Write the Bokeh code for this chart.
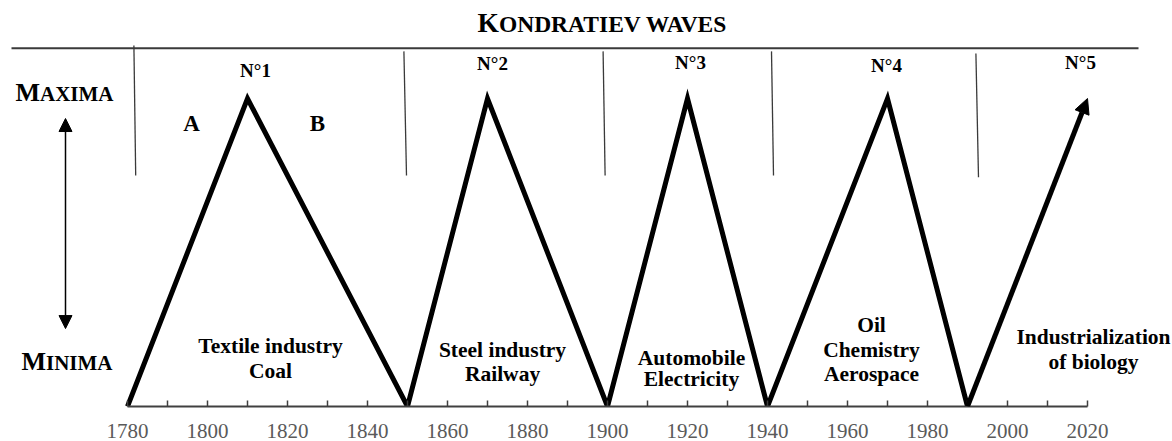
from bokeh.plotting import figure
from bokeh.models import Range1d, FixedTicker, Arrow, NormalHead
from bokeh.core.properties import value
from bokeh.embed import file_html
from bokeh.resources import INLINE

# ---------------- data ----------------
wave_years = [1780, 1810, 1850, 1870, 1900, 1920, 1940, 1970, 1990, 2020]
wave_level = [0, 1, 0, 1, 0, 1, 0, 1, 0, 1]

wave_names = ["N°1", "N°2", "N°3", "N°4", "N°5"]
name_years = [1812, 1871.25, 1920.75, 1969.75, 2018.25]
name_level = [1.091, 1.114, 1.117, 1.107, 1.117]

sep_year_top = [1781.6, 1849.1, 1898.9, 1941.0, 1992.1]
sep_year_bot = [1782.05, 1849.75, 1899.4, 1941.5, 1992.75]
sep_top = [1.172, 1.153, 1.153, 1.153, 1.146]
sep_bot = [0.750, 0.750, 0.750, 0.750, 0.744]

sector_text = ["Textile industry", "Coal",
               "Steel industry", "Railway",
               "Automobile", "Electricity",
               "Oil", "Chemistry", "Aerospace",
               "Industrialization", "of biology"]
sector_year = [1815.75, 1815.75,
               1873.75, 1873.75,
               1921.0, 1921.0,
               1966.0, 1966.0, 1966.0,
               2021.5, 2021.5]
sector_level = [0.195, 0.114,
                0.185, 0.104,
                0.156, 0.088,
                0.266, 0.185, 0.104,
                0.227, 0.146]

major_ticks = [1780, 1800, 1820, 1840, 1860, 1880, 1900, 1920, 1940, 1960, 1980, 2000, 2020]
minor_ticks = [1790, 1810, 1830, 1850, 1870, 1890, 1910, 1930, 1950, 1970, 1990, 2010]

# ---------------- figure ----------------
FONT = value("Liberation Serif")

p = figure(width=1172, height=441, output_backend="svg", toolbar_location=None,
           x_range=Range1d(1748.25, 2041.25), y_range=Range1d(0, 406 / 308),
           y_axis_location=None, min_border_left=0, min_border_right=0,
           min_border_top=0, min_border_bottom=35)
p.outline_line_color = None
p.grid.visible = False
p.background_fill_color = "white"
p.border_fill_color = "white"

ax = p.xaxis[0]
ax.ticker = FixedTicker(ticks=major_ticks, minor_ticks=minor_ticks)
ax.bounds = (1780, 2020)
ax.axis_line_color = "#404040"
ax.axis_line_width = 2
ax.major_tick_in = 6
ax.major_tick_out = 0
ax.minor_tick_in = 6
ax.minor_tick_out = 0
ax.major_tick_line_color = "#404040"
ax.minor_tick_line_color = "#404040"
ax.major_tick_line_width = 1.5
ax.minor_tick_line_width = 1.5
ax.major_label_text_font = "Liberation Serif"
ax.major_label_text_font_size = "21px"
ax.major_label_text_color = "#5a5a5a"
ax.major_label_text_line_height = 1.0
ax.major_label_standoff = 17

# title line and separators
p.segment(x0=[1751], y0=[1.1633], x1=[2032.75], y1=[1.1633],
          line_color="#3a3a3a", line_width=2)
p.segment(x0=sep_year_top, y0=sep_top, x1=sep_year_bot, y1=sep_bot,
          line_color="#3a3a3a", line_width=1.3)

# waves
p.line(wave_years[:-1], wave_level[:-1], line_width=5, line_color="black",
       line_join="miter")
p.add_layout(Arrow(end=NormalHead(size=15, fill_color="black", line_color="black", line_width=1),
                   x_start=wave_years[-2], y_start=wave_level[-2],
                   x_end=wave_years[-1], y_end=wave_level[-1],
                   line_width=5, line_color="black"))

# double arrow maxima/minima
p.add_layout(Arrow(start=NormalHead(size=13, fill_color="black", line_color="black", line_width=1),
                   end=NormalHead(size=13, fill_color="black", line_color="black", line_width=1),
                   x_start=1764.5, y_start=0.253, x_end=1764.5, y_end=0.935,
                   line_width=1.5, line_color="black"))

# wave numbers
p.text(x=name_years, y=name_level, text=wave_names, text_font=FONT,
       text_font_style="bold", text_font_size="19px", text_color="black",
       text_align="center", text_baseline="middle")

# A / B
p.text(x=[1796, 1827.5], y=[0.919, 0.919], text=["A", "B"], text_font=FONT,
       text_font_style="bold", text_font_size="23px", text_color="black",
       text_align="center", text_baseline="middle")

# sectors
p.text(x=sector_year, y=sector_level, text=sector_text, text_font=FONT,
       text_font_style="bold", text_font_size="21.5px", text_color="black",
       text_align="center", text_baseline="middle")

# small-caps title
p.text(x=[1867.5], y=[1.2468], text=["K"], text_font=FONT, text_font_style="bold",
       text_font_size="27.5px", text_color="black", text_align="left",
       text_baseline="middle")
p.text(x=[1867.5], y=[1.2468], text=["ONDRATIEV WAVES"], text_font=FONT,
       text_font_style="bold", text_font_size="23.5px", text_color="black",
       text_align="left", text_baseline="middle", x_offset=21.4, y_offset=1.4)

# small-caps MAXIMA / MINIMA
p.text(x=[1752, 1753.5], y=[1.0195, 0.1461], text=["M", "M"], text_font=FONT,
       text_font_style="bold", text_font_size="26px", text_color="black",
       text_align="left", text_baseline="middle")
p.text(x=[1752, 1753.5], y=[1.0195, 0.1461], text=["AXIMA", "INIMA"], text_font=FONT,
       text_font_style="bold", text_font_size="21px", text_color="black",
       text_align="left", text_baseline="middle", x_offset=24.5, y_offset=1.7)

open("out.html", "w").write(file_html(p, INLINE))
